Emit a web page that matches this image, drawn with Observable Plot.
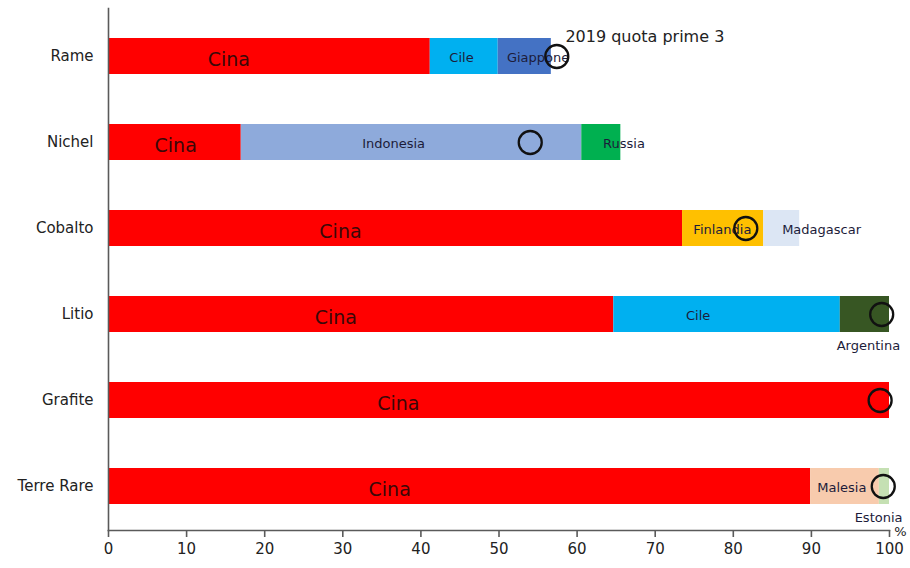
<!DOCTYPE html>
<html>
<head>
<meta charset="utf-8">
<script src="https://cdn.jsdelivr.net/npm/d3@7"></script>
<script src="https://cdn.jsdelivr.net/npm/@observablehq/plot@0.6"></script>
<style>
  html, body { margin: 0; padding: 0; background: #fff; }
  #chart svg { display: block; }
</style>
</head>
<body>
<div id="chart"></div>
<script>
// Minerals (rows, top to bottom)
const categories = ["Rame", "Nichel", "Cobalto", "Litio", "Grafite", "Terre Rare"];

// Countries and their colours
const countries = ["Cina", "Cile", "Giappone", "Indonesia", "Russia", "Finlandia", "Madagascar", "Argentina", "Malesia", "Estonia"];
const countryColors = ["#ff0000", "#00b0f0", "#4472c4", "#8eaadb", "#00b050", "#ffc000", "#dce6f4", "#375623", "#f8cbad", "#c5e0b3"];

// Share of production (%) – stacked segments
const shareMineral = ["Rame", "Rame", "Rame", "Nichel", "Nichel", "Nichel", "Cobalto", "Cobalto", "Cobalto", "Litio", "Litio", "Litio", "Grafite", "Terre Rare", "Terre Rare", "Terre Rare"];
const shareCountry = ["Cina", "Cile", "Giappone", "Cina", "Indonesia", "Russia", "Cina", "Finlandia", "Madagascar", "Cina", "Cile", "Argentina", "Cina", "Cina", "Malesia", "Estonia"];
const shareValue   = [41.2, 8.7, 6.8, 17.0, 43.6, 5.0, 73.5, 10.4, 4.6, 64.7, 29.0, 6.3, 100, 89.9, 8.8, 1.3];

// 2019 share of top 3 producers (%)
const quota2019 = [57.4, 54.0, 81.6, 99.0, 98.8, 99.2];
const quotaLabel = "2019 quota prime 3";

// Segment labels: text, row, anchor value (%), placement
const labelText    = ["Cina", "Cile", "Giappone", "Cina", "Indonesia", "Russia", "Cina", "Finlandia", "Madagascar", "Cina", "Cile", "Argentina", "Cina", "Cina", "Malesia", "Estonia"];
const labelMineral = ["Rame", "Rame", "Rame", "Nichel", "Nichel", "Nichel", "Cobalto", "Cobalto", "Cobalto", "Litio", "Litio", "Litio", "Grafite", "Terre Rare", "Terre Rare", "Terre Rare"];
const labelAt      = [15.4, 45.2, 55.0, 8.6, 36.5, 66.0, 29.7, 78.6, 91.3, 29.1, 75.5, 97.3, 37.1, 36.0, 93.9, 98.6];
const labelPlace   = ["in", "in", "in", "in", "in", "in", "in", "in", "in", "in", "in", "below", "in", "in", "in", "below"];

const xTicks = [0, 10, 20, 30, 40, 50, 60, 70, 80, 90, 100];

// Build tables
const shares = shareValue.map((v, i) => ({mineral: shareMineral[i], country: shareCountry[i], value: v}));
const quotas = quota2019.map((v, i) => ({mineral: categories[i], value: v}));
const labels = labelText.map((t, i) => ({text: t, mineral: labelMineral[i], x: labelAt[i], place: labelPlace[i]}));
const bigLabels = labels.filter(d => d.text === "Cina");
const smallIn = labels.filter(d => d.text !== "Cina" && d.place === "in");
const smallBelow = labels.filter(d => d.place === "below");
const quotaNote = [{mineral: categories[0], x: 58.5, text: quotaLabel}];

const axisColor = "#5a5a5a";
const font = "DejaVu Sans, sans-serif";

const chart = Plot.plot({
  width: 910,
  height: 568,
  marginLeft: 108,
  marginRight: 21,
  marginTop: 8,
  marginBottom: 38,
  style: {fontFamily: font, background: "#fff"},
  x: {domain: [0, 100]},
  y: {domain: categories, paddingInner: 0.583, paddingOuter: 0.32, align: 0.54},
  color: {domain: countries, range: countryColors},
  marks: [
    Plot.barX(shares, {x: "value", y: "mineral", fill: "country", inset: 0}),
    Plot.text(bigLabels, {x: "x", y: "mineral", text: "text", dy: 3, fontSize: 19, fill: "#3a0808"}),
    Plot.text(smallIn, {x: "x", y: "mineral", text: "text", dy: 1, fontSize: 13, fill: "#1c1c3a"}),
    Plot.text(smallBelow, {x: "x", y: "mineral", text: "text", dy: 31, fontSize: 13, fill: "#1c1c3a"}),
    Plot.dot(quotas, {x: "value", y: "mineral", r: 11.5, stroke: "#111", strokeWidth: 2.3, fill: "none"}),
    Plot.text(quotaNote, {x: "x", y: "mineral", text: "text", textAnchor: "start", dy: -20, fontSize: 16, fill: "#222"}),
    Plot.frame({anchor: "left", stroke: axisColor, strokeWidth: 1.6}),
    Plot.frame({anchor: "bottom", stroke: axisColor, strokeWidth: 1.6}),
    Plot.axisX({ticks: xTicks, tickSize: 7, tickPadding: 6, stroke: axisColor, strokeWidth: 1.6, fontSize: 15, fill: "#222", label: null}),
    Plot.text(["%"], {frameAnchor: "bottom-right", text: d => d, dx: 17, dy: 5, fontSize: 13, fill: "#222"}),
    Plot.axisY({tickSize: 0, tickPadding: 15, fontSize: 15, fill: "#222", label: null})
  ]
});
document.getElementById("chart").appendChild(chart);
</script>
</body>
</html>
